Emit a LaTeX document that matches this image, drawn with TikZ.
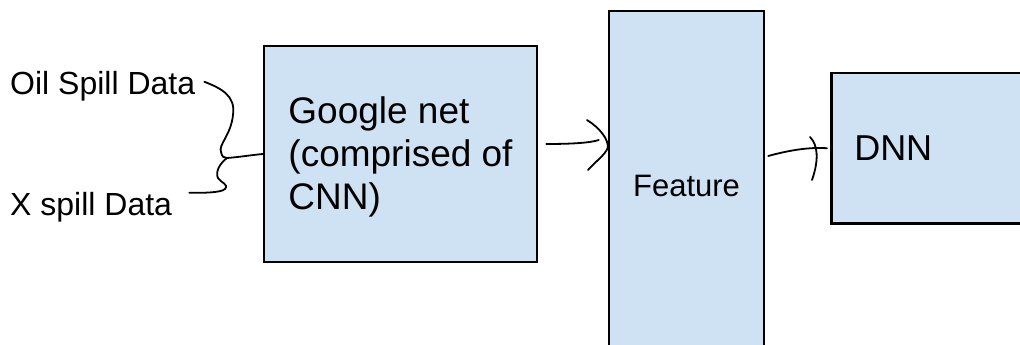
\documentclass[tikz,border=0pt]{standalone}
\usepackage{fontspec}
\setmainfont{Liberation Sans}
\usetikzlibrary{calc}
\definecolor{boxblue}{HTML}{CFE2F3}
\tikzset{
  box/.style={draw=black, line width=2.5pt, fill=boxblue, inner sep=0pt},
  lbl/.style={inner sep=0pt, font=\fontsize{32}{36}\selectfont},
  wire/.style={draw=black, line width=1.8pt, line cap=round}
}
\begin{document}
\begin{tikzpicture}[x=1pt,y=-1pt]
\useasboundingbox (0,0) rectangle (1020,345);
\clip (0,0) rectangle (1020,345);
% boxes
\node[box, minimum width=273pt, minimum height=216pt, align=left,
      font=\fontsize{37}{43}\selectfont] (g) at (400.5,154) {\rule{0pt}{33pt}Google net\\(comprised of\\CNN)};
\node[box, minimum width=155pt, minimum height=350pt,
      font=\fontsize{31}{36}\selectfont] (f) at (686.5,186) {Feature};
\node[box, anchor=north west, text width=170pt, inner xsep=23pt, minimum height=150pt,
      align=left, font=\fontsize{36}{40}\selectfont] (d) at (830,72) {DNN};
% input labels
\node[lbl, anchor=base west] (oil) at (10,95) {Oil Spill Data};
\node[lbl, anchor=base west] (xs) at (10,215) {X spill Data};
% connector coordinates
\coordinate (j) at (227,158);
\coordinate (o1) at ($(oil.east)+(9,-5)$);
\coordinate (x1) at ($(xs.east)+(17,-14)$);
\coordinate (a1) at ($(g.east)+(8,-10)$);
\coordinate (a2) at ($(f.west)+(-9,-46)$);
\coordinate (at) at ($(f.west)+(0,-38)$);
\coordinate (b1) at ($(f.east)+(3,-30)$);
\coordinate (b2) at ($(d.west)+(-3,0)$);
% merging input curves
\draw[wire] (o1) .. controls (220,88) and (236,95) .. (233,115)
  .. controls (231,135) and (218,145) .. (221,152)
  .. controls (222,157) and (224,158) .. (j);
\draw[wire] (x1) .. controls (200,193) and (221,193) .. (225,189)
  .. controls (229,184) and (221,183) .. (218,178)
  .. controls (215,172) and (220,163) .. (j);
\draw[wire] (j) .. controls (240,157) and (252,155) .. (g.west);
% Google net -> Feature
\draw[wire] (a1) .. controls (570,144) and (590,143) .. (a2);
\draw[wire] (587,120) .. controls (600,128) and (609,140) .. (at)
  .. controls (605,155) and (595,162) .. (588,170);
% Feature -> DNN
\draw[wire] (b1) .. controls (790,150) and (810,147) .. (b2);
\draw[wire] (810,137) .. controls (818,145) and (819,160) .. (812,180);
\end{tikzpicture}
\end{document}
